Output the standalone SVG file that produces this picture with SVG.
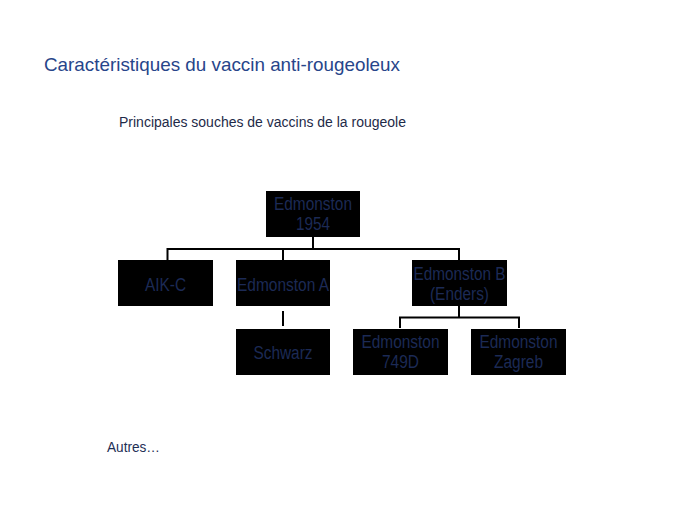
<svg xmlns="http://www.w3.org/2000/svg" width="689" height="517" viewBox="0 0 689 517">
<style>
.box{fill:#000;}
.nt{font-family:"Liberation Sans",Arial,sans-serif;font-size:18px;fill:#1c2a55;text-anchor:middle;}
.conn{stroke:#000;stroke-width:2;fill:none;}
</style>
<rect width="689" height="517" fill="#fff"/>
<text x="44" y="71" font-family="Liberation Sans, Arial, sans-serif" font-size="19" fill="#27458a" textLength="356" lengthAdjust="spacingAndGlyphs">Caractéristiques du vaccin anti-rougeoleux</text>
<text x="119" y="127" font-family="Liberation Sans, Arial, sans-serif" font-size="14" fill="#1e2a48" textLength="287" lengthAdjust="spacingAndGlyphs">Principales souches de vaccins de la rougeole</text>
<text x="107" y="452" font-family="Liberation Sans, Arial, sans-serif" font-size="14" fill="#1e2e55" textLength="53" lengthAdjust="spacingAndGlyphs">Autres…</text>
<g id="connectors">
<path class="conn" d="M313,237 V249 M166.5,249 H459.5 M167.5,248 V260 M283,248 V260 M459,248 V260"/>
<path class="conn" d="M283,311 V326"/>
<path class="conn" d="M459,306 V317.5 M399,317.5 H520 M400,317 V328 M519,317 V328"/>
</g>
<g id="root">
<rect class="box" x="266" y="191" width="94" height="46"/>
<text class="nt" x="313" y="210" textLength="78" lengthAdjust="spacingAndGlyphs">Edmonston</text>
<text class="nt" x="313" y="230" textLength="34" lengthAdjust="spacingAndGlyphs">1954</text>
</g>
<g id="aikc">
<rect class="box" x="118" y="260" width="95" height="46"/>
<text class="nt" x="165.5" y="291" textLength="41" lengthAdjust="spacingAndGlyphs">AIK-C</text>
</g>
<g id="edmA">
<rect class="box" x="236" y="260" width="94" height="46"/>
<text class="nt" x="283" y="291" textLength="92" lengthAdjust="spacingAndGlyphs">Edmonston A</text>
</g>
<g id="edmB">
<rect class="box" x="412" y="260" width="95" height="46"/>
<text class="nt" x="459.5" y="280" textLength="92" lengthAdjust="spacingAndGlyphs">Edmonston B</text>
<text class="nt" x="459.5" y="300" textLength="59" lengthAdjust="spacingAndGlyphs">(Enders)</text>
</g>
<g id="schwarz">
<rect class="box" x="236" y="329" width="94" height="46"/>
<text class="nt" x="283" y="359" textLength="59" lengthAdjust="spacingAndGlyphs">Schwarz</text>
</g>
<g id="e749d">
<rect class="box" x="353" y="329" width="95" height="46"/>
<text class="nt" x="400.5" y="348" textLength="78" lengthAdjust="spacingAndGlyphs">Edmonston</text>
<text class="nt" x="400.5" y="368" textLength="37" lengthAdjust="spacingAndGlyphs">749D</text>
</g>
<g id="zagreb">
<rect class="box" x="471" y="329" width="95" height="46"/>
<text class="nt" x="518.5" y="348" textLength="78" lengthAdjust="spacingAndGlyphs">Edmonston</text>
<text class="nt" x="518.5" y="368" textLength="49" lengthAdjust="spacingAndGlyphs">Zagreb</text>
</g>
</svg>
